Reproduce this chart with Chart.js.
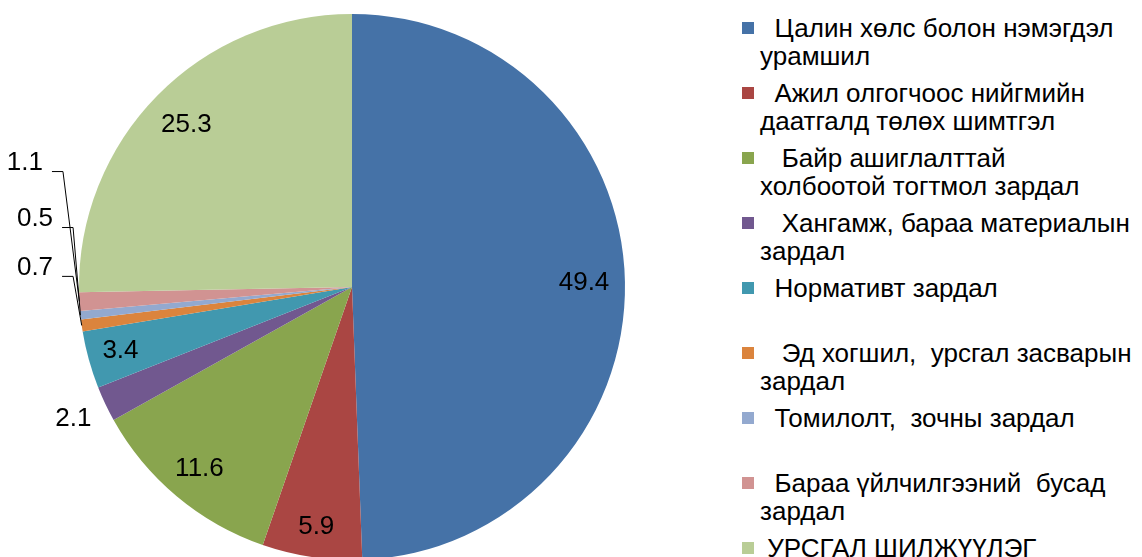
<!DOCTYPE html>
<html>
<head>
<meta charset="utf-8">
<script src="https://cdn.jsdelivr.net/npm/chart.js@4"></script>
<style>
    html, body { margin: 0; padding: 0; background: #fff; overflow: hidden; width: 1142px; height: 557px; }
    #pieChart { position: absolute; left: 0; top: 0; }
    #legend { position: absolute; left: 742px; top: 0; font-family: "Liberation Sans", Arial, sans-serif; font-size: 26px; color: #000; }
    .item { position: absolute; left: 0; width: 420px; }
    .sw { position: absolute; left: 0; top: 8px; width: 12px; height: 12px; }
    .txt { position: absolute; left: 18px; top: 0; line-height: 28px; white-space: pre; }
</style>
</head>
<body>
<canvas id="pieChart" width="704" height="574"></canvas>
<div id="legend"></div>
<script>
const labels = [
    "  Цалин хөлс болон нэмэгдэл\nурамшил",
    "  Ажил олгогчоос нийгмийн\nдаатгалд төлөх шимтгэл",
    "   Байр ашиглалттай\nхолбоотой тогтмол зардал",
    "   Хангамж, бараа материалын\nзардал",
    "  Нормативт зардал",
    "   Эд хогшил,  урсгал засварын\nзардал",
    "  Томилолт,  зочны зардал",
    "  Бараа үйлчилгээний  бусад\nзардал",
    " УРСГАЛ ШИЛЖҮҮЛЭГ"
];
const values = [49.4, 5.9, 11.6, 2.1, 3.4, 0.7, 0.5, 1.1, 25.3];
const colors = ["#4572A7", "#AA4643", "#89A54E", "#71588F", "#4198AF", "#DB843D", "#93A9CF", "#D19392", "#B9CD96"];

// label placement, in units of the pie radius
const labelRadius = [0.85, 0.89, 0.87, 1.13, 0.88, null, null, null, 0.85];
const callouts = {
    5: { x: -1.095, y: -0.07 },
    6: { x: -1.095, y: -0.249 },
    7: { x: -1.132, y: -0.454 }
};

const valueLabels = {
    id: "valueLabels",
    afterDatasetsDraw(chart) {
        const ctx = chart.ctx;
        const meta = chart.getDatasetMeta(0);
        ctx.save();
        ctx.font = '26px "Liberation Sans", Arial, sans-serif';
        ctx.fillStyle = "#000";
        ctx.strokeStyle = "#000";
        ctx.lineWidth = 1;
        ctx.textBaseline = "middle";
        meta.data.forEach((arc, i) => {
            const p = arc.getProps(["x", "y", "startAngle", "endAngle", "outerRadius"], true);
            const r = p.outerRadius;
            const mid = (p.startAngle + p.endAngle) / 2;
            const text = values[i].toFixed(1);
            const c = callouts[i];
            if (!c) {
                ctx.textAlign = "center";
                ctx.fillText(text, p.x + Math.cos(mid) * r * labelRadius[i], p.y + Math.sin(mid) * r * labelRadius[i]);
                return;
            }
            const tx = p.x + c.x * r;
            const ty = p.y + c.y * r;
            ctx.textAlign = "right";
            ctx.fillText(text, tx, ty);
            const ly = ty + 8.5;
            ctx.beginPath();
            ctx.moveTo(tx + 9, ly);
            ctx.lineTo(tx + 20, ly);
            ctx.lineTo(p.x + Math.cos(mid) * r, p.y + Math.sin(mid) * r);
            ctx.stroke();
        });
        ctx.restore();
    }
};

new Chart(document.getElementById("pieChart"), {
    type: "pie",
    data: {
        labels: labels,
        datasets: [{
            data: values,
            backgroundColor: colors,
            borderWidth: 0,
            hoverOffset: 0,
            offset: 0
        }]
    },
    options: {
        responsive: false,
        animation: false,
        devicePixelRatio: 1,
        layout: { padding: 14 },
        plugins: {
            legend: { display: false },
            tooltip: { enabled: false }
        }
    },
    plugins: [valueLabels]
});

const legend = document.getElementById("legend");
labels.forEach((label, i) => {
    const item = document.createElement("div");
    item.className = "item";
    item.style.top = (14 + 65 * i) + "px";
    const sw = document.createElement("div");
    sw.className = "sw";
    sw.style.background = colors[i];
    const txt = document.createElement("div");
    txt.className = "txt";
    txt.textContent = label;
    item.appendChild(sw);
    item.appendChild(txt);
    legend.appendChild(item);
});
</script>
</body>
</html>
